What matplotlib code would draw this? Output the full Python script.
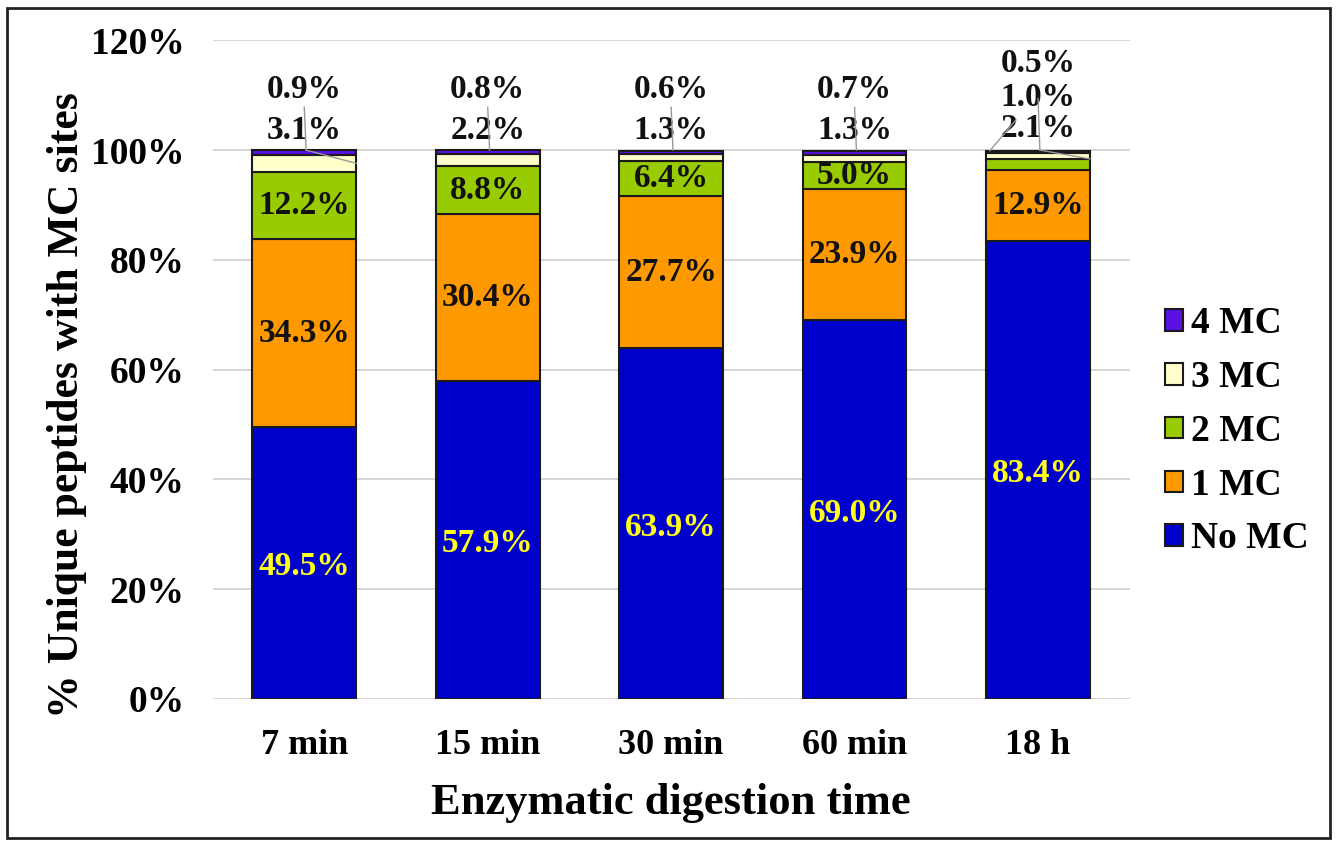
import matplotlib
matplotlib.use('Agg')

import numpy as np
from matplotlib import pyplot as plt
from matplotlib.patches import Rectangle

plt.rcParams['font.family'] = 'Liberation Serif'
plt.rcParams['font.weight'] = 'bold'
plt.rcParams['axes.labelweight'] = 'bold'

times = ['7 min', '15 min', '30 min', '60 min', '18 h']
no_mc = [49.5, 57.9, 63.9, 69.0, 83.4]
mc1 = [34.3, 30.4, 27.7, 23.9, 12.9]
mc2 = [12.2, 8.8, 6.4, 5.0, 2.1]
mc3 = [3.1, 2.2, 1.3, 1.3, 1.0]
mc4 = [0.9, 0.8, 0.6, 0.7, 0.5]

names = ['No MC', '1 MC', '2 MC', '3 MC', '4 MC']
colors = ['#0000CC', '#FF9900', '#99CC00', '#FFFFCC', '#5A10E0']
series = [no_mc, mc1, mc2, mc3, mc4]

fig = plt.figure(figsize=(13.37, 8.41), dpi=100)
ax = fig.add_axes([0.159, 0.169, 0.686, 0.783])

x = np.arange(len(times))
w = 0.565
bottom = np.zeros(len(times))
for vals, c, n in zip(series, colors, names):
    ax.bar(x, vals, w, bottom=bottom, color=c, edgecolor='#1a1a1a',
           linewidth=1.5, label=n, zorder=3)
    bottom = bottom + np.array(vals)

# labels inside the big segments
fs = 24
cum = np.zeros(len(times))
for k, vals in enumerate(series):
    for i, v in enumerate(vals):
        mid = cum[i] + v / 2
        if k == 0:
            ax.text(x[i], mid - 0.7, '%.1f%%' % v, ha='center', va='center',
                    fontsize=fs, color='#FFFF1A', zorder=5)
        elif k == 1 or (k == 2 and v > 3):
            ax.text(x[i], mid, '%.1f%%' % v, ha='center', va='center',
                    fontsize=fs, color='#111111', zorder=5)
    cum = cum + np.array(vals)

# small segments get callouts above the bars
lc = '#999999'
for i in range(len(times)):
    if i < 4:
        ax.text(x[i], 111.1, '%.1f%%' % mc4[i], ha='center', va='center',
                fontsize=fs, color='#111111')
        ax.text(x[i], 103.5, '%.1f%%' % mc3[i], ha='center', va='center',
                fontsize=fs, color='#111111')
        ax.plot([x[i], x[i] + 0.01], [107.8, 100], color=lc, lw=1, zorder=4)
    else:
        ax.text(x[i], 115.8, '%.1f%%' % mc4[i], ha='center', va='center',
                fontsize=fs, color='#111111')
        ax.text(x[i], 109.6, '%.1f%%' % mc3[i], ha='center', va='center',
                fontsize=fs, color='#111111')
        ax.text(x[i], 104.0, '%.1f%%' % mc2[i], ha='center', va='center',
                fontsize=fs, color='#111111')
        ax.plot([x[i], x[i] + 0.01], [109.4, 100], color=lc, lw=1, zorder=4)
        ax.plot([x[i] + 0.01, x[i] + w / 2], [100, 98.4], color=lc, lw=1, zorder=4)
        ax.plot([x[i] - 0.12, x[i] - w / 2 + 0.02], [105.5, 99.9], color=lc, lw=1, zorder=4)
ax.plot([x[0] + 0.01, x[0] + w / 2], [100, 97.6], color=lc, lw=1, zorder=4)

ax.set_xlim(-0.5, len(times) - 0.5)
ax.set_ylim(0, 120)
ax.set_yticks(np.arange(0, 121, 20))
ax.set_yticklabels(['%d%%' % v for v in range(0, 121, 20)])
ax.set_xticks(x)
ax.set_xticklabels(times)
ax.tick_params(axis='y', length=0, pad=20, labelsize=27)
ax.tick_params(axis='x', length=0, pad=22, labelsize=26)
ax.yaxis.grid(True, color='#d0d0d0', lw=1.2, zorder=0)
for s in ax.spines.values():
    s.set_visible(False)

ax.set_ylabel('% Unique peptides with MC sites', fontsize=31.5)
ax.yaxis.set_label_coords(-0.137, 0.446)
ax.set_xlabel('Enzymatic digestion time', fontsize=32)
ax.xaxis.set_label_coords(0.5, -0.128)

h, l = ax.get_legend_handles_labels()
fig.legend(h[::-1], l[::-1], loc='center left', bbox_to_anchor=(0.871, 0.487),
           frameon=False, fontsize=27, handlelength=0.5, handleheight=0.5,
           handletextpad=0.2, labelspacing=0.5, borderaxespad=0, borderpad=0)

fig.patches.append(Rectangle((0.005, 0.003), 0.99, 0.988, transform=fig.transFigure,
                             fill=False, edgecolor='#222222', lw=2))

plt.savefig('out.png', dpi=100)
